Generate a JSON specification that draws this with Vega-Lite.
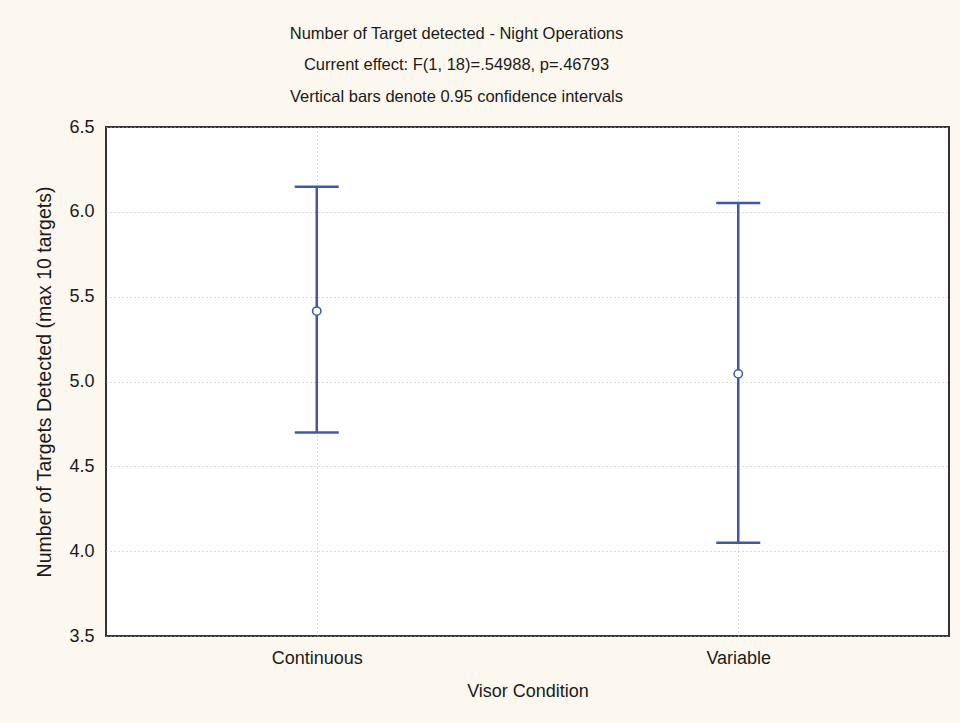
{
  "$schema": "https://vega.github.io/schema/vega-lite/v6.json",
  "width": 843,
  "height": 509,
  "autosize": {"type": "none"},
  "padding": {"left": 106, "top": 127, "right": 11, "bottom": 87},
  "background": "#FCF7EF",
  "config": {
    "font": "Liberation Sans",
    "view": {"fill": "#FFFFFF", "stroke": "#333333", "strokeWidth": 2}
  },
  "title": {
    "text": ["Number of Target detected - Night Operations", "Current effect: F(1, 18)=.54988, p=.46793", "Vertical bars denote 0.95 confidence intervals"],
    "fontSize": 16.5,
    "fontWeight": "normal",
    "color": "#1a1a1a",
    "lineHeight": 31.5,
    "anchor": "middle",
    "frame": "group",
    "dx": -71,
    "offset": 13
  },
  "data": {
    "values": [
      {"condition": "Continuous", "mean": 5.415, "lower": 4.70, "upper": 6.148},
      {"condition": "Variable", "mean": 5.045, "lower": 4.05, "upper": 6.052}
    ]
  },
  "encoding": {
    "x": {
      "field": "condition",
      "type": "nominal",
      "scale": {"type": "point", "padding": 0.5},
      "axis": {
        "title": "Visor Condition",
        "titleFont": "Liberation Sans",
        "titleFontSize": 18,
        "titleFontWeight": "normal",
        "titleColor": "#1a1a1a",
        "titlePadding": 15,
        "labelFontSize": 18,
        "labelColor": "#1a1a1a",
        "labelPadding": 13,
        "labelAngle": 0,
        "ticks": false,
        "domain": false,
        "grid": true,
        "gridColor": "#B5B5B5",
        "gridDash": [1, 3],
        "gridWidth": 1
      }
    }
  },
  "layer": [
    {
      "mark": {"type": "rule", "color": "#3F58A8", "strokeWidth": 2.5},
      "encoding": {
        "y": {
          "field": "lower",
          "type": "quantitative",
          "scale": {"domain": [3.5, 6.5], "nice": false, "zero": false},
          "axis": {
            "title": "Number of Targets Detected (max 10 targets)",
            "titleFontSize": 19.5,
            "titleFontWeight": "normal",
            "titleColor": "#1a1a1a",
            "titlePadding": 14,
            "labelFontSize": 18,
            "labelColor": "#1a1a1a",
            "labelPadding": 12,
            "values": [3.5, 4.0, 4.5, 5.0, 5.5, 6.0, 6.5],
            "format": ".1f",
            "ticks": false,
            "domain": false,
            "grid": true,
            "gridColor": "#B5B5B5",
            "gridDash": [1, 3],
            "gridWidth": 1
          }
        },
        "y2": {"field": "upper"}
      }
    },
    {
      "mark": {"type": "tick", "color": "#3F58A8", "thickness": 2.5, "size": 44, "orient": "horizontal", "opacity": 1},
      "encoding": {"y": {"field": "upper", "type": "quantitative"}}
    },
    {
      "mark": {"type": "tick", "color": "#3F58A8", "thickness": 2.5, "size": 44, "orient": "horizontal", "opacity": 1},
      "encoding": {"y": {"field": "lower", "type": "quantitative"}}
    },
    {
      "mark": {"type": "point", "shape": "circle", "filled": true, "fill": "#FFFFFF", "stroke": "#3F58A8", "strokeWidth": 1.5, "size": 70, "opacity": 1},
      "encoding": {"y": {"field": "mean", "type": "quantitative"}}
    }
  ]
}
